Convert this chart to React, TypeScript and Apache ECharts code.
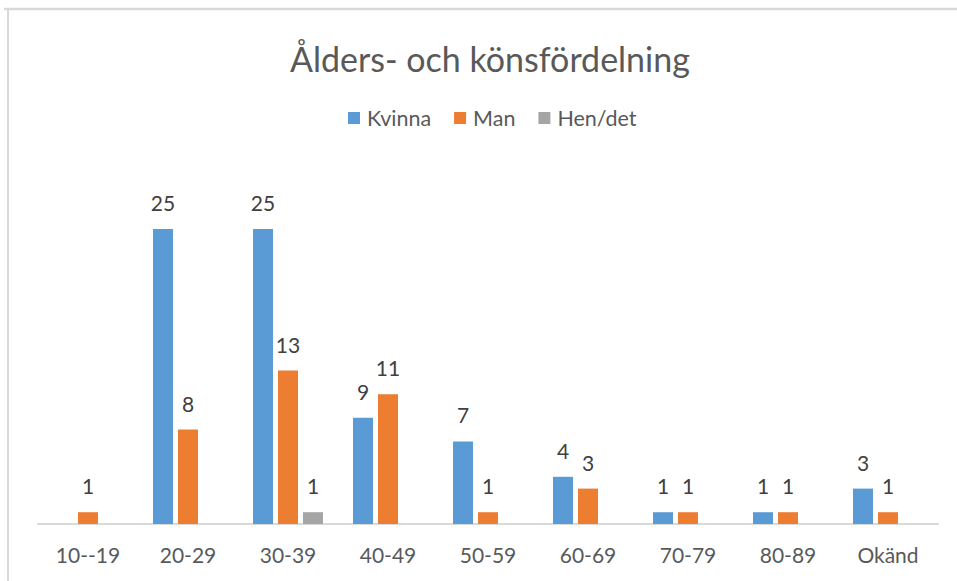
import React, { useEffect, useRef } from "react";
import * as echarts from "echarts";

const categories = ["10--19", "20-29", "30-39", "40-49", "50-59", "60-69", "70-79", "80-89", "Okänd"];
const kvinna = [0, 25, 25, 9, 7, 4, 1, 1, 3];
const man = [1, 8, 13, 11, 1, 3, 1, 1, 1];
const hendet = [0, 0, 1, 0, 0, 0, 0, 0, 0];
const seriesNames = ["Kvinna", "Man", "Hen/det"];
const colors = ["#5B9BD5", "#ED7D31", "#A5A5A5"];
const titleText = "Ålders- och könsfördelning";

const FONT = "Lato, 'Open Sans', sans-serif";

export default function App() {
  const ref = useRef<HTMLDivElement>(null);
  useEffect(() => {
    if (!ref.current) return;
    const chart = echarts.init(ref.current, null, { renderer: "svg" });
    const label = {
      show: true,
      position: "top" as const,
      distance: 16,
      color: "#404040",
      fontSize: 21,
      fontFamily: FONT,
      formatter: (p: any) => (p.value === 0 ? "" : String(p.value)),
    };
    const datasets = [kvinna, man, hendet];
    chart.setOption({
      animation: false,
      backgroundColor: "#ffffff",
      title: {
        text: titleText,
        left: 285,
        top: 36,
        textStyle: { fontFamily: FONT, fontSize: 34, fontWeight: "normal", color: "#595959" },
      },
      legend: {
        data: seriesNames,
        top: 102,
        left: 343,
        itemWidth: 12,
        itemHeight: 12,
        itemGap: 23,
        icon: "rect",
        textStyle: { fontFamily: FONT, fontSize: 21.5, color: "#595959", padding: [0, 0, 0, 2] },
      },
      grid: { left: 38, right: 19, top: 170, bottom: 57, containLabel: false },
      xAxis: {
        type: "category",
        data: categories,
        axisLine: { lineStyle: { color: "#D9D9D9", width: 2 } },
        axisTick: { show: false },
        axisLabel: { color: "#595959", fontSize: 21, fontFamily: FONT, margin: 20 },
      },
      yAxis: { type: "value", min: 0, max: 30, show: false, splitLine: { show: false } },
      series: seriesNames.map((name, i) => ({
        name,
        type: "bar",
        data: datasets[i],
        itemStyle: { color: colors[i] },
        barGap: "25%",
        barCategoryGap: "30%",
        label,
      })),
      graphic: [
        { type: "line", shape: { x1: 4, y1: 9, x2: 957, y2: 9 }, style: { stroke: "#D9D9D9", lineWidth: 2.5 } },
        { type: "line", shape: { x1: 8, y1: 9, x2: 8, y2: 581 }, style: { stroke: "#D9D9D9", lineWidth: 2 } },
      ],
    });
    return () => chart.dispose();
  }, []);
  return (
    <div
      ref={ref}
      style={{ position: "fixed", left: 0, top: 0, width: 957, height: 581 }}
    />
  );
}
